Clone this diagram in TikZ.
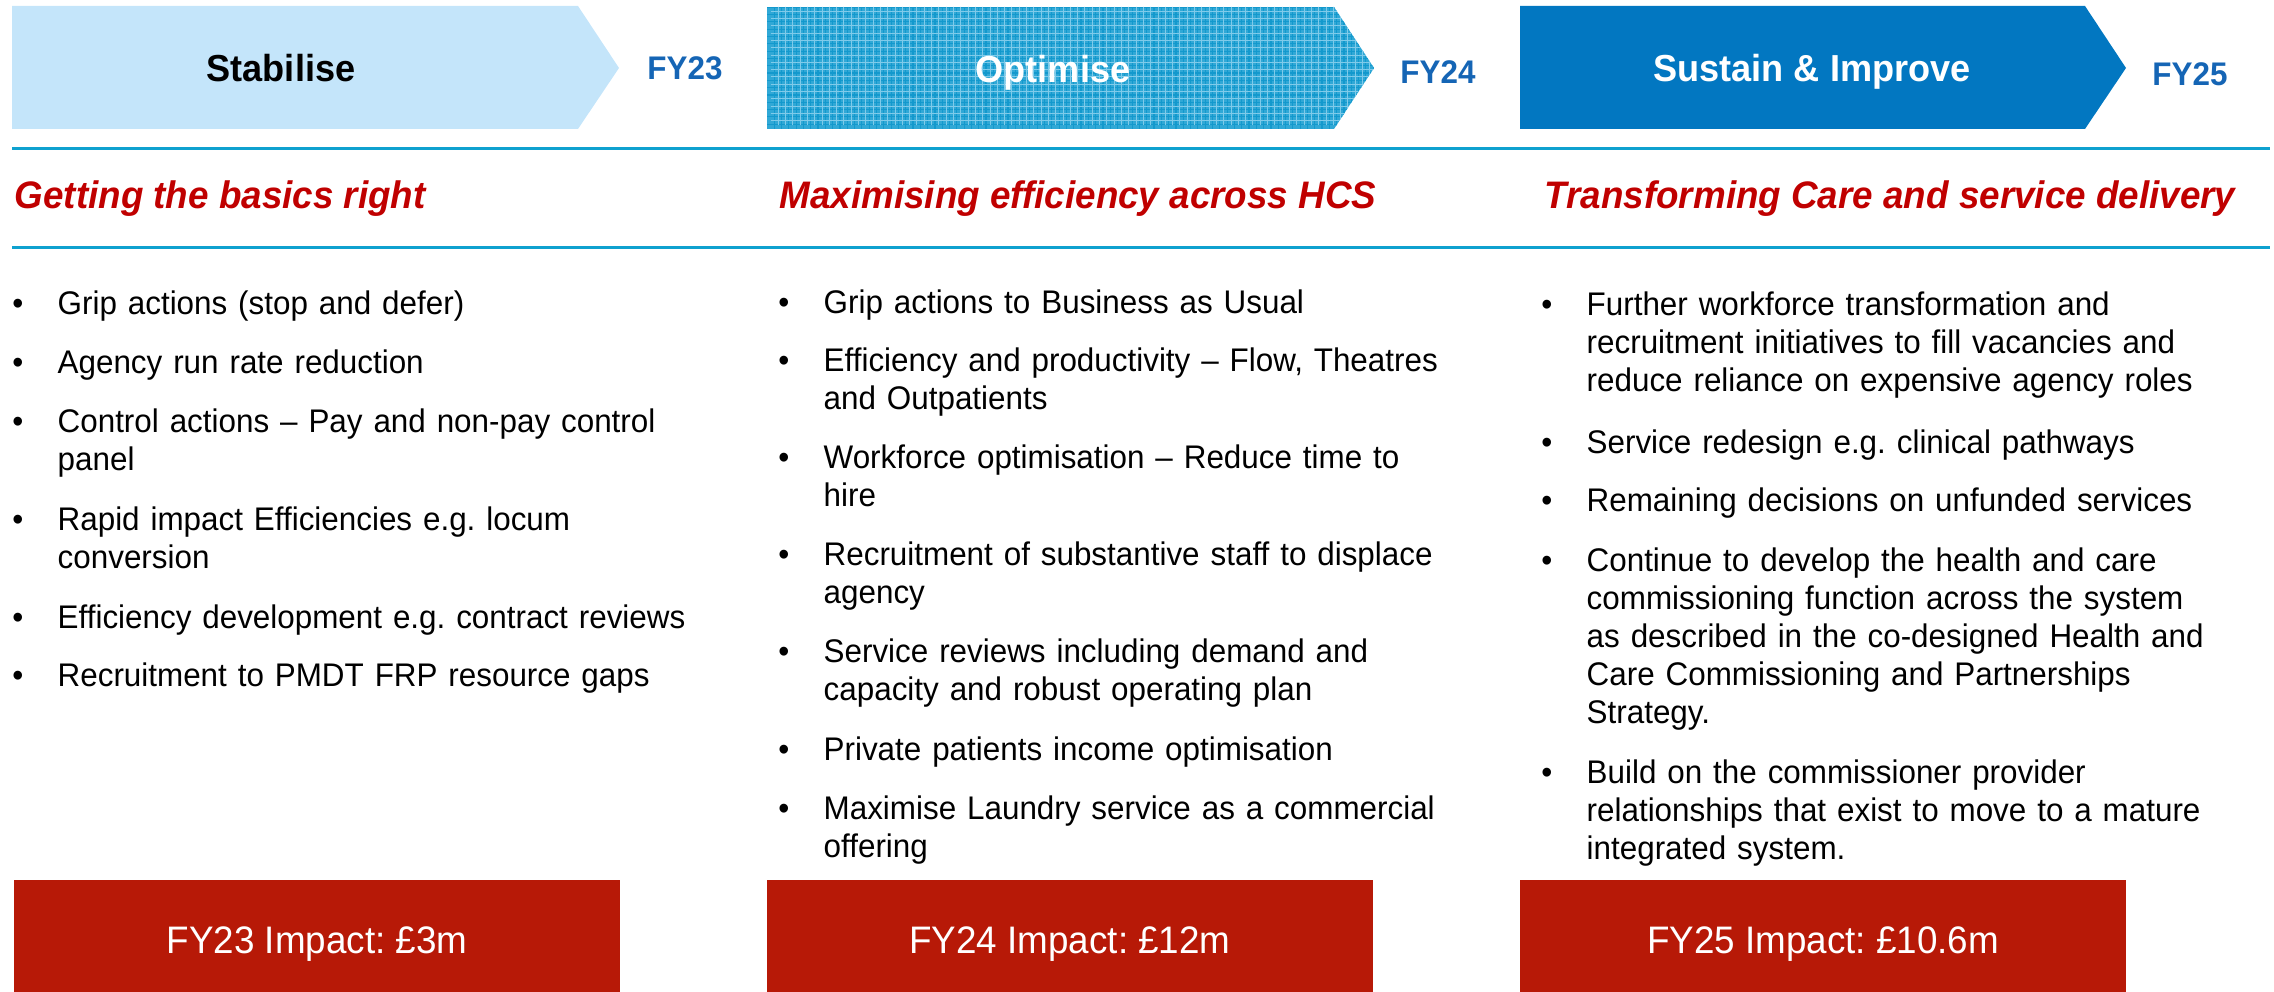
\documentclass[tikz,border=0pt]{standalone}
\usepackage{fontspec}
\setmainfont{Liberation Sans}[FakeStretch=0.96]
\frenchspacing

\definecolor{stabblue}{HTML}{C4E5FA}
\definecolor{optblue}{HTML}{30A8D6}
\definecolor{optgrid}{HTML}{1399CD}
\definecolor{optlight}{HTML}{7FCBEA}
\definecolor{sustblue}{HTML}{0277C1}
\definecolor{fyblue}{HTML}{1565B5}
\definecolor{rulecyan}{HTML}{0EA1CF}
\definecolor{headred}{HTML}{C00000}
\definecolor{impactred}{HTML}{B71907}

% bullet hanging left of the item text
\newcommand{\blt}{\llap{\textbullet\hspace{9.8pt}}}

\begin{document}
\begin{tikzpicture}[x=0.01cm, y=-0.01cm,
        phasetext/.style={inner sep=0pt, anchor=base, font=\bfseries\fontsize{10.7}{12}\selectfont},
        yeartext/.style={inner sep=0pt, anchor=base, text=fyblue, font=\bfseries\fontsize{9.3}{11}\selectfont},
        aimtext/.style={inner sep=0pt, anchor=base west, text=headred, font=\bfseries\itshape\fontsize{10.9}{12}\selectfont},
        bulletpt/.style={inner sep=0pt, anchor=base west, text width=6.8cm, align=left, font=\fontsize{9.3}{10.8}\selectfont},
        impactbox/.style={fill=impactred, text=white, inner sep=0pt, minimum width=6.06cm, minimum height=1.2cm, text height=0.275cm, text depth=0pt, font=\fontsize{10.9}{13}\selectfont},
        divider/.style={rulecyan, line width=0.3mm}]
        \useasboundingbox (0,0) rectangle (2274,992);

        % Phase arrows
        \fill[stabblue] (12,6) -- (578,6) -- (619,68) -- (578,129) -- (12,129) -- cycle;
        \begin{scope}
            \clip (767,7) -- (1334,7) -- (1374,68) -- (1334,129) -- (767,129) -- cycle;
            \fill[optblue] (767,129) rectangle (1374,7);
            \draw[optgrid, line width=0.12mm, step=0.73mm] (767,129) grid (1374,7);
            \draw[optlight, line width=0.04mm, step=0.73mm, xshift=0.365mm, yshift=0.365mm] (767,129) grid (1374,7);
        \end{scope}
        \fill[sustblue] (1520,6) -- (2085,6) -- (2126,68) -- (2085,129) -- (1520,129) -- cycle;

        \node[phasetext] (stab) at (281,82) {Stabilise};
        \node[phasetext, text=white] (opt) at (1053,83) {Optimise};
        \node[phasetext, text=white] (sust) at (1812,82) {Sustain \& Improve};

        % Year labels
        \node[yeartext] (fy23) at (685,80) {FY23};
        \node[yeartext] (fy24) at (1438,84) {FY24};
        \node[yeartext] (fy25) at (2190,86) {FY25};

        % Rules
        \draw[divider] (12,149) -- (2270,149);
        \draw[divider] (12,248) -- (2270,248);

        % Aims
        \node[aimtext] (aim1) at (14,209) {Getting the basics right};
        \node[aimtext] (aim2) at (779,209) {Maximising efficiency across HCS};
        \node[aimtext] (aim3) at (1544,209) {Transforming Care and service delivery};

        % Stabilise actions
        \node[bulletpt] (s1) at (57,315) {\blt Grip actions (stop and defer)};
        \node[bulletpt] (s2) at (57,374) {\blt Agency run rate reduction};
        \node[bulletpt] (s3) at (57,433) {\blt Control actions – Pay and non-pay control\\panel};
        \node[bulletpt] (s4) at (57,531) {\blt Rapid impact Efficiencies e.g. locum\\conversion};
        \node[bulletpt] (s5) at (57,629) {\blt Efficiency development e.g. contract reviews};
        \node[bulletpt] (s6) at (57,687) {\blt Recruitment to PMDT FRP resource gaps};

        % Optimise actions
        \node[bulletpt] (o1) at (823,314) {\blt Grip actions to Business as Usual};
        \node[bulletpt] (o2) at (823,372) {\blt Efficiency and productivity – Flow, Theatres\\and Outpatients};
        \node[bulletpt] (o3) at (823,469) {\blt Workforce optimisation – Reduce time to\\hire};
        \node[bulletpt] (o4) at (823,566) {\blt Recruitment of substantive staff to displace\\agency};
        \node[bulletpt] (o5) at (823,663) {\blt Service reviews including demand and\\capacity and robust operating plan};
        \node[bulletpt] (o6) at (823,761) {\blt Private patients income optimisation};
        \node[bulletpt] (o7) at (823,820) {\blt Maximise Laundry service as a commercial\\offering};

        % Sustain actions
        \node[bulletpt] (t1) at (1586,316) {\blt Further workforce transformation and\\recruitment initiatives to fill vacancies and\\reduce reliance on expensive agency roles};
        \node[bulletpt] (t2) at (1586,454) {\blt Service redesign e.g. clinical pathways};
        \node[bulletpt] (t3) at (1586,512) {\blt Remaining decisions on unfunded services};
        \node[bulletpt] (t4) at (1586,572) {\blt Continue to develop the health and care\\commissioning function across the system\\as described in the co-designed Health and\\Care Commissioning and Partnerships\\Strategy.};
        \node[bulletpt] (t5) at (1586,784) {\blt Build on the commissioner provider\\relationships that exist to move to a mature\\integrated system.};

        % Impact boxes
        \node[impactbox] (imp23) at (317,940) {FY23 Impact: £3m};
        \node[impactbox] (imp24) at (1070,940) {FY24 Impact: £12m};
        \node[impactbox] (imp25) at (1823,940) {FY25 Impact: £10.6m};
    \end{tikzpicture}
\end{document}
